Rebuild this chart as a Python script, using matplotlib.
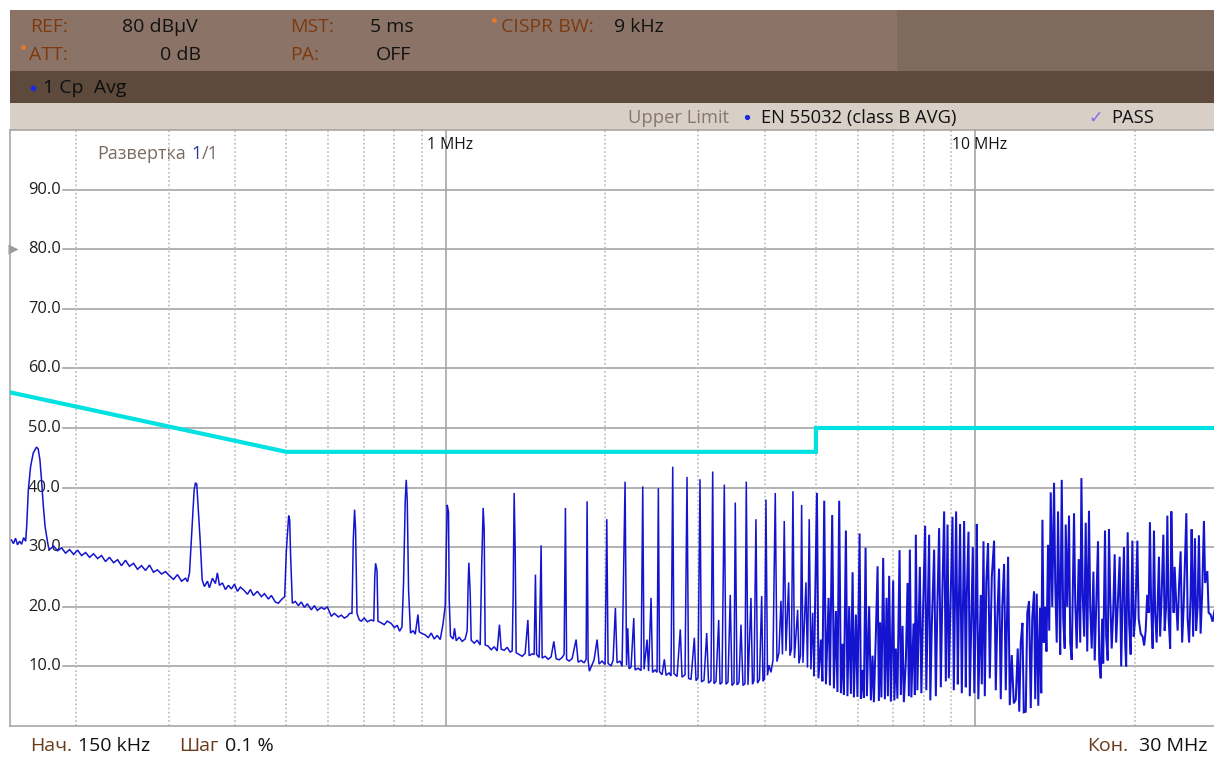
import matplotlib
matplotlib.use("Agg")
import matplotlib.pyplot as plt
from matplotlib.patches import Rectangle
from matplotlib.ticker import NullLocator

plt.rcParams['font.family'] = ['Open Sans', 'DejaVu Sans']

# ---------------- data ----------------
limit_freq_mhz = [0.15, 0.5, 0.5, 5.0, 5.0, 30.0]
limit_db = [56.0, 46.0, 46.0, 46.0, 50.0, 50.0]

trace_low = [
    (0.1513, 31.2), (0.1526, 30.6), (0.1540, 31.5), (0.1553, 30.4), (0.1567, 31.0), (0.1581, 30.5),
    (0.1595, 31.6), (0.1609, 31.0), (0.1616, 33.3), (0.1628, 39.6), (0.1644, 43.5), (0.1663, 45.8),
    (0.1687, 46.8), (0.1699, 46.5), (0.1712, 44.7), (0.1725, 41.0), (0.1738, 36.8), (0.1751, 33.5),
    (0.1763, 31.8), (0.1776, 30.1),
    (0.1785, 29.6), (0.1817, 30.2), (0.1849, 29.4), (0.1881, 29.9), (0.1914, 29.0), (0.1948, 29.6),
    (0.1982, 28.8), (0.2017, 29.5), (0.2052, 28.6), (0.2088, 29.1), (0.2125, 28.3), (0.2162, 28.9),
    (0.2200, 28.1), (0.2238, 28.6), (0.2277, 27.6), (0.2317, 28.3), (0.2358, 27.4), (0.2400, 27.9),
    (0.2441, 26.9), (0.2484, 27.8), (0.2527, 26.8), (0.2572, 27.3), (0.2617, 26.3), (0.2663, 26.9),
    (0.2710, 26.1), (0.2757, 27.0), (0.2805, 25.8), (0.2854, 26.2), (0.2905, 25.5), (0.2956, 25.9),
    (0.3008, 25.2), (0.3060, 24.6), (0.3114, 25.4), (0.3169, 24.3), (0.3225, 24.8), (0.3253, 24.2),
    (0.3281, 25.7),
    (0.3319, 33.5), (0.3348, 39.6), (0.3367, 40.8), (0.3386, 40.6), (0.3407, 36.8), (0.3436, 31.3),
    (0.3467, 24.5),
    (0.3501, 23.4), (0.3547, 24.3), (0.3578, 23.2), (0.3625, 24.8), (0.3672, 23.9), (0.3704, 25.7),
    (0.3737, 23.6), (0.3786, 24.0), (0.3836, 22.9), (0.3886, 23.6), (0.3937, 23.0), (0.3989, 23.8),
    (0.4041, 22.6), (0.4094, 23.3), (0.4166, 22.7), (0.4221, 22.1), (0.4276, 22.9), (0.4331, 21.9),
    (0.4407, 22.6), (0.4485, 21.7), (0.4544, 22.2), (0.4624, 21.3), (0.4684, 21.9), (0.4766, 20.8),
    (0.4829, 20.6), (0.4892, 21.2), (0.4963, 21.7),
    (0.4999, 29.4), (0.5050, 35.3), (0.5072, 34.6), (0.5093, 28.5), (0.5131, 20.6),
    (0.5199, 20.9), (0.5267, 20.2), (0.5336, 20.8), (0.5406, 19.9), (0.5477, 20.5), (0.5573, 19.5),
    (0.5646, 20.2), (0.5720, 19.4), (0.5820, 19.9), (0.5896, 19.6), (0.5974, 20.0), (0.6079, 18.4),
    (0.6159, 18.9), (0.6267, 18.3), (0.6349, 18.6), (0.6432, 18.1), (0.6517, 18.4), (0.6582, 18.9),
    (0.6650, 18.9),
    (0.6688, 31.3), (0.6726, 36.3), (0.6755, 32.9), (0.6796, 18.9),
    (0.6865, 17.8), (0.6925, 17.6), (0.7016, 18.1), (0.7108, 17.5), (0.7232, 17.8), (0.7311, 17.6),
    (0.7343, 25.0), (0.7369, 27.3), (0.7414, 26.1), (0.7446, 17.6),
    (0.7553, 17.3), (0.7652, 17.0), (0.7753, 17.6), (0.7889, 17.2), (0.7993, 16.5), (0.8097, 16.9),
    (0.8179, 15.9), (0.8264, 16.6),
    (0.8322, 24.0), (0.8384, 38.0), (0.8420, 41.3), (0.8457, 37.7), (0.8505, 22.9), (0.8578, 15.6),
    (0.8680, 16.0), (0.8756, 15.4), (0.8860, 18.7), (0.8910, 15.8), (0.9026, 15.5), (0.9145, 15.3),
    (0.9265, 14.8), (0.9386, 15.6), (0.9509, 14.6), (0.9634, 15.2), (0.9760, 14.5), (0.9875, 17.0),
    (0.9974, 20.1),
]

trace_mid = [
    (1.0061, 37.1), (1.0119, 35.9), (1.0149, 21.2), (1.0205, 15.1), (1.0327, 14.6), (1.0386, 16.4),
    (1.0463, 14.3), (1.0600, 14.9), (1.0739, 14.2), (1.0880, 14.6), (1.0974, 16.0), (1.1022, 24.0),
    (1.1055, 27.4), (1.1119, 22.3), (1.1167, 14.4), (1.1314, 13.9), (1.1462, 14.4), (1.1613, 13.6),
    (1.1688, 26.8), (1.1765, 36.6), (1.1816, 33.0), (1.1868, 13.6), (1.2023, 13.4), (1.2181, 12.8),
    (1.2341, 13.3), (1.2503, 12.6), (1.2628, 17.0), (1.2722, 12.9), (1.2889, 12.7), (1.3058, 13.2),
    (1.3230, 12.4), (1.3345, 12.6), (1.3403, 22.0), (1.3461, 39.1), (1.3520, 30.0), (1.3579, 12.3),
    (1.3757, 12.0), (1.3937, 11.7), (1.4120, 12.2), (1.4288, 17.8), (1.4368, 11.8), (1.4556, 12.1),
    (1.4683, 12.0), (1.4767, 25.4), (1.4842, 12.0), (1.5006, 11.5), (1.5137, 30.3), (1.5203, 11.4),
    (1.5403, 11.7), (1.5605, 11.2), (1.5809, 11.6), (1.5996, 14.2), (1.6156, 11.3), (1.6369, 11.1),
    (1.6583, 11.5), (1.6728, 12.0), (1.6823, 36.6), (1.6909, 11.2), (1.7095, 10.9), (1.7319, 11.3),
    (1.7623, 14.5), (1.7777, 10.7), (1.8010, 11.0), (1.8246, 10.6), (1.8406, 11.2), (1.8486, 37.7),
    (1.8567, 11.0), (1.8671, 9.2), (1.8892, 10.3), (1.9057, 11.1), (1.9307, 14.5), (1.9476, 10.4),
    (1.9730, 10.9), (1.9990, 10.3), (2.0138, 34.7), (2.0252, 10.5), (2.0517, 10.1), (2.0696, 11.0),
    (2.0905, 19.8), (2.1059, 10.6), (2.1336, 10.9), (2.1521, 10.0),
    (2.1804, 41.0), (2.1944, 10.2), (2.2062, 16.4), (2.2187, 9.6), (2.2380, 9.9), (2.2644, 18.1),
    (2.2773, 9.4), (2.3072, 9.7), (2.3374, 9.3), (2.3547, 40.2), (2.3681, 9.5), (2.3992, 14.5),
    (2.4152, 9.2), (2.4412, 21.5), (2.4572, 9.0), (2.4840, 9.4), (2.5057, 9.0), (2.5200, 39.9),
    (2.5330, 9.1), (2.5607, 8.6), (2.5866, 11.2), (2.6056, 8.5), (2.6399, 8.9), (2.6628, 8.4),
    (2.6825, 43.5), (2.6977, 8.8), (2.7332, 8.3), (2.7722, 16.2), (2.7931, 8.2), (2.8298, 8.6),
    (2.8545, 41.8), (2.8736, 8.0), (2.9045, 7.8), (2.9466, 14.8), (2.9683, 7.6), (2.9942, 8.1),
    (3.0204, 41.4), (3.0401, 7.4), (3.0733, 7.7), (3.1096, 15.6), (3.1345, 7.2), (3.1682, 7.6),
    (3.1916, 42.7), (3.2098, 7.1), (3.2378, 7.5), (3.2759, 17.8), (3.2946, 7.0), (3.3233, 7.3),
    (3.3569, 40.5), (3.3816, 7.0), (3.4111, 7.4), (3.4449, 22.0), (3.4708, 6.8), (3.5011, 7.2),
    (3.5211, 37.5), (3.5471, 6.9), (3.5781, 7.3), (3.6093, 17.0), (3.6408, 6.8), (3.6726, 7.1),
    (3.6934, 41.0), (3.7209, 6.9), (3.7696, 21.5), (3.7943, 7.0), (3.8191, 7.6), (3.8524, 34.7),
    (3.8782, 7.2), (3.9121, 7.8), (3.9490, 21.8), (3.9714, 7.5), (3.9972, 7.9), (4.0235, 38.0),
    (4.0504, 8.5), (4.0764, 10.2), (4.1118, 9.0), (4.1477, 11.0), (4.1895, 39.1), (4.2204, 10.8),
    (4.2574, 12.3), (4.2944, 21.0), (4.3225, 12.0), (4.3567, 34.4), (4.3887, 12.6), (4.4404, 24.1),
    (4.4657, 11.8), (4.4949, 12.9), (4.5243, 39.4), (4.5537, 11.4), (4.6179, 19.5), (4.6439, 10.5),
    (4.6744, 11.8), (4.6986, 37.1), (4.7252, 10.6), (4.7872, 24.1), (4.8192, 9.8), (4.8562, 34.7),
    (4.8923, 9.5), (4.9285, 19.0), (4.9565, 8.5),
]

trace_high = [
    (5.0216, 39.1), (5.0552, 8.0), (5.1095, 14.5), (5.1430, 7.5), (5.1836, 37.8), (5.2218, 7.0),
    (5.2832, 21.5), (5.3134, 6.8), (5.3666, 35.4), (5.4064, 6.3), (5.4536, 19.3), (5.4901, 5.7),
    (5.5322, 37.8), (5.5734, 5.5), (5.6146, 13.8), (5.6465, 5.2), (5.6958, 32.8), (5.7339, 5.0),
    (5.7779, 20.1), (5.8209, 5.4), (5.8640, 25.8), (5.8973, 4.8), (5.9488, 18.7), (5.9885, 4.9),
    (6.0450, 32.3), (6.0794, 4.6), (6.1244, 9.4), (6.1592, 4.7), (6.2046, 29.9), (6.2400, 5.0),
    (6.3025, 20.1), (6.3493, 4.3), (6.3963, 11.8), (6.4326, 4.0), (6.4888, 15.5), (6.5372, 26.8),
    (6.5741, 4.2), (6.6103, 17.4), (6.6458, 4.8), (6.6983, 28.2), (6.7476, 4.5), (6.7977, 21.5),
    (6.8362, 5.0), (6.8747, 25.2), (6.9257, 4.1), (6.9957, 24.4), (7.0317, 4.3), (7.0779, 13.0),
    (7.1252, 4.6), (7.1923, 29.5), (7.2333, 5.2), (7.2868, 16.8), (7.3282, 4.0), (7.3922, 11.0),
    (7.4474, 24.0), (7.4894, 5.0), (7.5219, 29.6), (7.5710, 4.8), (7.6436, 17.2), (7.6870, 5.2),
    (7.7205, 32.1), (7.7721, 6.0), (7.8559, 26.7), (7.9071, 5.5), (7.9588, 18.0), (8.0390, 33.6),
    (8.0800, 6.0), (8.1795, 32.1), (8.2221, 4.3), (8.2761, 17.0), (8.3598, 29.6), (8.4213, 5.0),
    (8.4776, 20.0), (8.5427, 33.2), (8.6062, 6.5), (8.6626, 22.0), (8.7310, 36.0), (8.7953, 7.5),
    (8.8610, 33.8), (8.9109, 8.0), (8.9884, 23.0), (9.0549, 35.1), (9.1063, 6.0), (9.1978, 36.0),
    (9.2661, 7.0), (9.3066, 20.0), (9.3578, 33.9), (9.4283, 5.5), (9.5236, 34.4), (9.5937, 6.5),
    (9.6355, 22.0), (9.7067, 32.6), (9.7621, 5.0), (9.8900, 30.0), (9.9544, 5.5), (10.020, 20.0),
    (10.064, 33.9), (10.131, 4.5), (10.240, 22.0), (10.285, 7.0), (10.361, 31.0), (10.420, 5.0),
    (10.487, 24.0), (10.568, 30.7), (10.649, 8.0), (10.741, 25.0), (10.849, 31.1), (10.929, 6.0),
    (11.002, 18.0), (11.086, 26.4), (11.169, 4.5), (11.242, 20.0), (11.331, 27.2), (11.414, 6.0),
    (11.530, 28.4), (11.615, 3.5), (11.716, 11.9), (11.818, 3.8), (11.921, 4.4), (12.025, 13.0),
    (12.104, 2.4), (12.183, 14.0), (12.273, 17.3), (12.343, 2.3), (12.451, 2.4), (12.534, 19.0),
    (12.630, 20.9), (12.724, 3.0), (12.807, 18.0), (12.908, 22.6), (12.975, 4.5), (13.060, 22.2),
    (13.148, 3.4), (13.247, 19.8), (13.318, 5.5),
    (13.387, 34.6), (13.463, 14.0), (13.551, 20.0), (13.623, 12.5), (13.718, 30.4), (13.789, 16.0),
    (13.879, 39.2), (13.970, 20.0), (14.080, 40.8), (14.152, 24.0), (14.246, 14.0), (14.327, 36.0),
    (14.401, 22.0), (14.463, 12.0), (14.559, 41.3), (14.654, 18.0), (14.750, 13.0), (14.814, 33.8),
    (14.913, 20.0), (15.028, 35.3), (15.106, 14.0), (15.205, 11.1), (15.359, 35.7), (15.437, 21.0),
    (15.539, 13.0), (15.675, 28.0), (15.778, 14.0), (15.860, 41.6), (15.950, 22.0), (16.054, 15.0),
    (16.159, 34.1), (16.267, 12.5), (16.392, 36.1), (16.478, 20.0), (16.586, 13.0), (16.709, 25.9),
    (16.804, 11.0), (16.912, 20.0), (17.047, 31.0), (17.135, 11.0), (17.247, 8.0), (17.360, 18.0),
    (17.435, 10.5), (17.573, 32.8), (17.663, 15.0), (17.780, 11.0), (17.880, 33.0), (17.973, 22.0),
    (18.091, 13.0), (18.209, 19.0), (18.329, 28.8), (18.447, 14.0), (18.570, 20.0), (18.732, 28.4),
    (18.854, 10.0), (18.977, 22.0), (19.086, 30.0), (19.184, 14.0), (19.266, 10.0), (19.394, 32.5),
    (19.520, 17.0), (19.648, 12.0), (19.793, 31.1), (19.906, 15.0), (20.035, 18.0), (20.230, 31.1),
    (20.344, 18.0), (20.521, 15.5), (20.700, 15.0), (20.835, 13.5), (20.972, 16.0), (21.112, 22.0),
    (21.247, 19.0), (21.364, 34.2), (21.479, 20.0), (21.619, 13.0), (21.743, 32.8), (21.854, 19.0),
    (21.998, 14.0), (22.219, 28.4), (22.334, 15.0), (22.481, 22.0), (22.648, 32.1), (22.777, 16.0),
    (22.923, 20.0), (23.047, 35.3), (23.176, 18.0), (23.329, 13.0), (23.449, 36.0), (23.582, 24.0),
    (23.685, 19.0), (23.788, 26.7), (23.941, 21.0), (24.100, 16.0), (24.257, 24.0), (24.416, 29.3),
    (24.576, 14.0), (24.736, 20.0), (25.029, 35.7), (25.170, 18.0), (25.334, 14.0), (25.500, 22.0),
    (25.611, 33.0), (25.778, 15.0), (25.982, 31.5), (26.115, 16.0), (26.288, 20.0), (26.436, 32.0),
    (26.633, 15.5), (26.807, 22.0), (27.019, 34.4), (27.158, 24.0), (27.421, 26.0), (27.576, 19.0),
    (27.815, 18.7), (28.058, 17.5), (28.30, 19.5), (28.80, 18.5), (29.40, 20.5), (30.0, 19.0),
]

y_ticks = [10, 20, 30, 40, 50, 60, 70, 80, 90]
y_tick_labels = ["10.0", "20.0", "30.0", "40.0", "50.0", "60.0", "70.0", "80.0", "90.0"]
decade_freqs = [1.0, 10.0]
decade_labels = ["1 MHz", "10 MHz"]
minor_freqs = [0.2, 0.3, 0.4, 0.5, 0.6, 0.7, 0.8, 0.9,
               2, 3, 4, 5, 6, 7, 8, 9, 20]
ref_level = 80

# ---------------- figure ----------------
W, H = 1214, 758
fig = plt.figure(figsize=(W / 100, H / 100), dpi=100, facecolor='white')

bg = fig.add_axes([0, 0, 1, 1], zorder=0)
bg.set_xlim(0, W)
bg.set_ylim(H, 0)
bg.axis('off')

# header bands
bg.add_patch(Rectangle((10, 10), 887, 61, facecolor='#8B7467', lw=0))
bg.add_patch(Rectangle((897, 10), W - 897, 61, facecolor='#806A5D', lw=0))
bg.add_patch(Rectangle((10, 71), W - 10, 32, facecolor='#5D4A3C', lw=0))
bg.add_patch(Rectangle((10, 103), W - 10, 27, facecolor='#D8CFC7', lw=0))

lab_c = '#7E3A0E'
val_c = '#121212'
hf = 14
bg.text(30, 27, "REF:", color=lab_c, fontsize=hf, va='center')
bg.text(122, 27, "80 dBµV", color=val_c, fontsize=hf, va='center')
bg.text(290, 27, "MST:", color=lab_c, fontsize=hf, va='center')
bg.text(370, 27, "5 ms", color=val_c, fontsize=hf, va='center')
bg.plot([494], [20], marker='o', ms=3.5, color='#E8782A', mec='none')
bg.text(501, 27, "CISPR BW:", color=lab_c, fontsize=hf, va='center')
bg.text(614, 27, "9 kHz", color=val_c, fontsize=hf, va='center')

bg.plot([23], [47], marker='o', ms=3.5, color='#E8782A', mec='none')
bg.text(29, 55, "ATT:", color=lab_c, fontsize=hf, va='center')
bg.text(201, 55, "0 dB", color=val_c, fontsize=hf, va='center', ha='right')
bg.text(290, 55, "PA:", color=lab_c, fontsize=hf, va='center')
bg.text(376, 55, "OFF", color=val_c, fontsize=hf, va='center')

bg.plot([33], [88], marker='o', ms=4.2, color='#1A2ADC', mec='none')
bg.text(43, 88, "1 Cp  Avg", color='#0E0E0E', fontsize=hf, va='center')

bf2 = 13.2
bg.text(628, 118, "Upper Limit", color='#85786F', fontsize=bf2, va='center')
bg.plot([747], [117], marker='o', ms=3.8, color='#1A2ADC', mec='none')
bg.text(761, 118, "EN 55032 (class B AVG)", color=val_c, fontsize=bf2, va='center')
bg.text(1088, 118, "✓", color='#8A66EE', fontsize=12.5, va='center',
        family=['DejaVu Sans'])
bg.text(1111, 118, "PASS", color=val_c, fontsize=bf2, va='center')

# bottom row
foot_c = '#6B3A1A'
bf = 14
bg.text(30, 746, "Нач.", color=foot_c, fontsize=bf, va='center')
bg.text(78, 746, "150 kHz", color=val_c, fontsize=bf, va='center')
bg.text(179, 746, "Шаг", color=foot_c, fontsize=bf, va='center')
bg.text(225, 746, "0.1 %", color=val_c, fontsize=bf, va='center')
bg.text(1087, 746, "Кон.", color=foot_c, fontsize=bf, va='center')
bg.text(1207, 746, "30 MHz", color=val_c, fontsize=bf, va='center', ha='right')

# sweep label with coloured counter
renderer = fig.canvas.get_renderer()
xpos = 97.5
for s, c, gap in [("Развертка", '#7A6B62', 5.5), ("1", '#2A3BA0', 0.0), ("/1", '#7A6B62', 0.0)]:
    t = bg.text(xpos, 154, s, color=c, fontsize=13, va='center')
    bb = t.get_window_extent(renderer)
    xpos += bb.width + gap

# ---------------- main plot ----------------
left_px, right_px, top_px, bot_px = 9.5, 1228.0, 130.0, 726.0
ax = fig.add_axes([left_px / W, (H - bot_px) / H, (right_px - left_px) / W, (bot_px - top_px) / H],
                  zorder=1)
ax.patch.set_visible(False)
ax.set_xscale('log')
ax.set_xlim(0.15, 30.0)
ax.set_ylim(0, 100)
ax.xaxis.set_major_locator(NullLocator())
ax.xaxis.set_minor_locator(NullLocator())
ax.yaxis.set_major_locator(NullLocator())
ax.yaxis.set_minor_locator(NullLocator())
for side in ['left', 'bottom', 'top', 'right']:
    ax.spines[side].set_color('#A0A0A0')
    ax.spines[side].set_linewidth(1.1)

grid_start = (63 - left_px) / (right_px - left_px)
for yv in y_ticks:
    ax.axhline(yv, xmin=grid_start, xmax=1, color='#A6A6A6', lw=1.2, zorder=1)
for fv in minor_freqs:
    ax.axvline(fv, color='#C2C2C2', lw=1.3, ls=(0, (1.0, 1.3)), zorder=1)
for fv in decade_freqs:
    ax.axvline(fv, color='#A6A6A6', lw=1.2, zorder=1)

ylab_x = (28 - left_px) / (right_px - left_px)
for yv, lab in zip(y_ticks, y_tick_labels):
    ax.text(ylab_x, yv, lab, transform=ax.get_yaxis_transform(), ha='left', va='center',
            fontsize=11.8, color='#1E1E1E', zorder=2)

for fv, lab in zip(decade_freqs, decade_labels):
    ax.annotate(lab, xy=(fv, 97.5), xytext=(3, 0), textcoords='offset points',
                ha='center', va='center', fontsize=11.3, color='#151515', zorder=2)

# reference level marker
ax.plot([0.003], [ref_level], marker='>', ms=7, color='#9A9A9A', mec='none',
        transform=ax.get_yaxis_transform(), clip_on=False, zorder=2)

trace_color = '#1414D0'
lo = trace_low + trace_mid
ax.plot([p[0] for p in lo], [p[1] for p in lo], color=trace_color, lw=1.1, zorder=3,
        solid_joinstyle='miter')
hi = [trace_mid[-1]] + trace_high
ax.plot([p[0] for p in hi], [p[1] for p in hi], color=trace_color, lw=1.45, zorder=3,
        solid_joinstyle='miter')

ax.plot(limit_freq_mhz, limit_db, color='#00E1E1', lw=3.0, zorder=4, solid_joinstyle='miter')

fig.savefig('out.png', dpi=100, facecolor='white')
